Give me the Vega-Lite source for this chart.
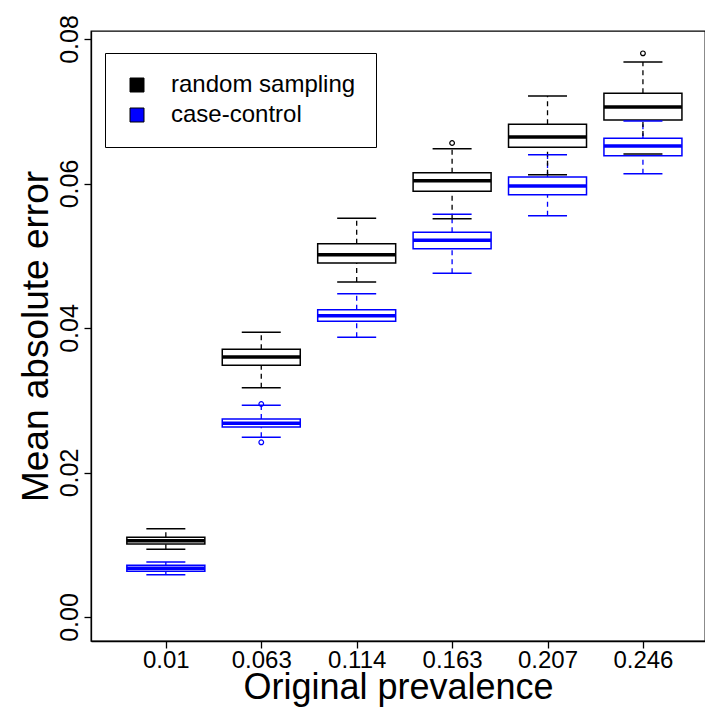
{
  "$schema": "https://vega.github.io/schema/vega-lite/v6.json",
  "width": 614,
  "height": 610,
  "autosize": {"type": "none"},
  "padding": {"left": 91, "top": 31, "right": 0, "bottom": 66},
  "background": "white",
  "config": {
    "view": {"stroke": "#000", "strokeWidth": 1.3},
    "font": "Liberation Sans",
    "axis": {
      "grid": false,
      "domainColor": "#000",
      "domainWidth": 1.3,
      "tickColor": "#000",
      "tickWidth": 1.3,
      "tickSize": 7,
      "labelColor": "#000",
      "titleColor": "#000",
      "labelFont": "Liberation Sans",
      "titleFont": "Liberation Sans",
      "labelFontSize": 25,
      "titleFontSize": 37,
      "titleFontWeight": "normal"
    }
  },
  "datasets": {
    "boxes": [
      {"group": "case-control", "pos": 1, "lw": 0.00585, "q1": 0.00633, "med": 0.00674, "q3": 0.00715, "uw": 0.00761},
      {"group": "case-control", "pos": 2, "lw": 0.02487, "q1": 0.02630, "med": 0.02681, "q3": 0.02740, "uw": 0.02930},
      {"group": "case-control", "pos": 3, "lw": 0.03871, "q1": 0.04093, "med": 0.04170, "q3": 0.04253, "uw": 0.04475},
      {"group": "case-control", "pos": 4, "lw": 0.04757, "q1": 0.05098, "med": 0.05214, "q3": 0.05325, "uw": 0.05574},
      {"group": "case-control", "pos": 5, "lw": 0.05554, "q1": 0.05845, "med": 0.05965, "q3": 0.06090, "uw": 0.06399},
      {"group": "case-control", "pos": 6, "lw": 0.06136, "q1": 0.06385, "med": 0.06519, "q3": 0.06626, "uw": 0.06865},
      {"group": "random sampling", "pos": 1, "lw": 0.00937, "q1": 0.01010, "med": 0.01056, "q3": 0.01103, "uw": 0.01222},
      {"group": "random sampling", "pos": 2, "lw": 0.03174, "q1": 0.03484, "med": 0.03599, "q3": 0.03705, "uw": 0.03940},
      {"group": "random sampling", "pos": 3, "lw": 0.04637, "q1": 0.04900, "med": 0.05015, "q3": 0.05167, "uw": 0.05518},
      {"group": "random sampling", "pos": 4, "lw": 0.05513, "q1": 0.05892, "med": 0.06039, "q3": 0.06150, "uw": 0.06482},
      {"group": "random sampling", "pos": 5, "lw": 0.06122, "q1": 0.06501, "med": 0.06644, "q3": 0.06819, "uw": 0.07211},
      {"group": "random sampling", "pos": 6, "lw": 0.06408, "q1": 0.06879, "med": 0.07059, "q3": 0.07249, "uw": 0.07682}
    ],
    "outliers": [
      {"group": "case-control", "pos": 2, "value": 0.02948},
      {"group": "case-control", "pos": 2, "value": 0.02418},
      {"group": "random sampling", "pos": 4, "value": 0.06561},
      {"group": "random sampling", "pos": 6, "value": 0.07802}
    ]
  },
  "encoding": {
    "x": {
      "field": "pos",
      "type": "quantitative",
      "scale": {"domain": [0.268, 6.598], "nice": false, "zero": false},
      "axis": {
        "values": [1, 2, 3, 4, 5, 6],
        "labelExpr": "['0.01','0.063','0.114','0.163','0.207','0.246'][datum.value - 1]",
        "title": "Original prevalence",
        "labelPadding": 0,
        "labelFontSize": 24,
        "titleFontSize": 36,
        "titleY": 57,
        "titleBaseline": "alphabetic"
      }
    }
  },
  "layer": [
    {
      "data": {"name": "boxes"},
      "mark": {"type": "rule", "strokeDash": [5, 4], "strokeWidth": 1.3},
      "encoding": {
        "y": {"field": "q3", "type": "quantitative", "title": "Mean absolute error",
          "scale": {"domain": [-0.00332, 0.08111], "nice": false, "zero": false},
          "axis": {"values": [0, 0.02, 0.04, 0.06, 0.08], "format": ".2f", "labelAngle": -90, "labelPadding": 2, "titlePadding": 2}},
        "y2": {"field": "uw"},
        "stroke": {"field": "group", "type": "nominal", "scale": {"domain": ["case-control", "random sampling"], "range": ["#0000ff", "#000000"]}, "legend": null}
      }
    },
    {
      "data": {"name": "boxes"},
      "mark": {"type": "rule", "strokeDash": [5, 4], "strokeWidth": 1.3},
      "encoding": {
        "y": {"field": "lw", "type": "quantitative", "title": "Mean absolute error"},
        "y2": {"field": "q1"},
        "stroke": {"field": "group", "type": "nominal", "legend": null}
      }
    },
    {
      "data": {"name": "boxes"},
      "mark": {"type": "bar", "size": 78, "fill": "white", "strokeWidth": 1.5},
      "encoding": {
        "y": {"field": "q1", "type": "quantitative", "title": "Mean absolute error"},
        "y2": {"field": "q3"},
        "stroke": {"field": "group", "type": "nominal", "legend": null}
      }
    },
    {
      "data": {"name": "boxes"},
      "mark": {"type": "tick", "orient": "horizontal", "size": 39, "thickness": 1.5, "opacity": 1},
      "encoding": {
        "y": {"field": "uw", "type": "quantitative", "title": "Mean absolute error"},
        "fill": {"field": "group", "type": "nominal", "scale": {"domain": ["case-control", "random sampling"], "range": ["#0000ff", "#000000"]}, "legend": null}
      }
    },
    {
      "data": {"name": "boxes"},
      "mark": {"type": "tick", "orient": "horizontal", "size": 39, "thickness": 1.5, "opacity": 1},
      "encoding": {
        "y": {"field": "lw", "type": "quantitative", "title": "Mean absolute error"},
        "fill": {"field": "group", "type": "nominal", "legend": null}
      }
    },
    {
      "data": {"name": "boxes"},
      "mark": {"type": "tick", "orient": "horizontal", "size": 78, "thickness": 3.5, "opacity": 1},
      "encoding": {
        "y": {"field": "med", "type": "quantitative", "title": "Mean absolute error"},
        "color": {
          "field": "group", "type": "nominal",
          "scale": {"domain": ["random sampling", "case-control"], "range": ["#000000", "#0000ff"]},
          "legend": {
            "title": null,
            "orient": "none",
            "legendX": 14,
            "legendY": 22,
            "symbolType": "square",
            "symbolSize": 196,
            "symbolStrokeColor": "#000",
            "symbolStrokeWidth": 1,
            "symbolOpacity": 1,
            "labelFont": "Liberation Sans",
            "labelFontSize": 24,
            "labelColor": "#000",
            "labelLimit": 400,
            "labelOffset": 22,
            "padding": 20,
            "rowPadding": 6,
            "strokeColor": "#000",
            "fillColor": "white"
          }
        }
      }
    },
    {
      "data": {"name": "outliers"},
      "mark": {"type": "point", "shape": "circle", "filled": false, "size": 22, "strokeWidth": 1.2, "opacity": 1},
      "encoding": {
        "y": {"field": "value", "type": "quantitative", "title": "Mean absolute error"},
        "stroke": {"field": "group", "type": "nominal", "legend": null}
      }
    }
  ]
}
